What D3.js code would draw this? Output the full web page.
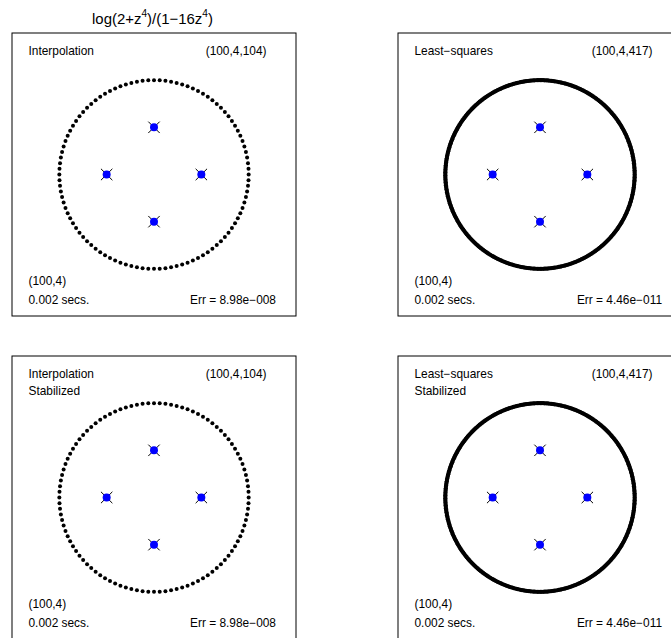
<!DOCTYPE html>
<html>
<head>
<meta charset="utf-8">
<script src="https://cdn.jsdelivr.net/npm/d3@7"></script>
<style>
  body { margin: 0; background: #fff; }
  svg { display: block; font-family: "Liberation Sans", Arial, Helvetica, sans-serif; }
</style>
</head>
<body>
<script>
// panel data, in reading order (top-left, top-right, bottom-left, bottom-right)
var methods    = ["Interpolation", "Least\u2212squares", "Interpolation", "Least\u2212squares"];
var stabilized = [false, false, true, true];
var sizeLabels = ["(100,4,104)", "(100,4,417)", "(100,4,104)", "(100,4,417)"];
var nSamples   = [104, 417, 104, 417];        // sample points on the unit circle
var degLabels  = ["(100,4)", "(100,4)", "(100,4)", "(100,4)"];
var times      = ["0.002", "0.002", "0.002", "0.002"];
var errors     = ["8.98e\u2212008", "4.46e\u2212011", "8.98e\u2212008", "4.46e\u2212011"];

// poles of 1/(1-16z^4): true (blue dots) and computed (black crosses)
var poleRe = [0.5, 0, -0.5, 0];
var poleIm = [0, 0.5, 0, -0.5];
var calcRe = [0.5, 0, -0.5, 0];
var calcIm = [0, 0.5, 0, -0.5];

var W = 671, H = 638;
var pw = 284, ph = 283;
var colX = [12, 398], rowY = [33, 356];

var svg = d3.select("body").append("svg").attr("width", W).attr("height", H);

// title with superscripts, over the left column
var title = svg.append("text").attr("x", 92).attr("y", 23.5).attr("font-size", 14.8);
title.append("tspan").text("log(2+z");
title.append("tspan").attr("dy", -6.5).attr("font-size", 10).text("4");
title.append("tspan").attr("dy", 6.5).text(")/(1\u221216z");
title.append("tspan").attr("dy", -6.5).attr("font-size", 10).text("4");
title.append("tspan").attr("dy", 6.5).text(")");
// fit title to its width in the original (about 121px, centred near x=152.5)
var bb = title.node().getBBox();
var k = 121 / bb.width;
if (k > 0.8 && k < 1.25) {
  title.attr("font-size", 14.8 * k);
  title.selectAll("tspan").filter(function(d, j) { return j % 2 == 1; }).attr("font-size", 10 * k);
  bb = title.node().getBBox();
}
title.attr("x", 92 + (152.5 - (bb.x + bb.width / 2)));

var x = d3.scaleLinear().domain([-1.5, 1.5]).range([0, pw]);
var y = d3.scaleLinear().domain([-1.5, 1.5]).range([ph, 0]);

methods.forEach(function(m, i) {
  var g = svg.append("g")
    .attr("transform", "translate(" + colX[i % 2] + "," + rowY[Math.floor(i / 2)] + ")");

  g.append("rect").attr("width", pw).attr("height", ph)
    .attr("fill", "none").attr("stroke", "#000").attr("stroke-width", 1);

  // sample points
  var pts = d3.range(nSamples[i]).map(function(k) { return 2 * Math.PI * k / nSamples[i]; });
  g.selectAll("circle.samp").data(pts).enter().append("circle")
    .attr("class", "samp")
    .attr("cx", function(t) { return x(Math.cos(t)); })
    .attr("cy", function(t) { return y(Math.sin(t)); })
    .attr("r", nSamples[i] > 200 ? 2.1 : 2.0)
    .attr("fill", "#000");

  // computed poles as crosses
  var s = 5.7;
  g.selectAll("path.cross").data(calcRe).enter().append("path")
    .attr("class", "cross")
    .attr("d", function(d, j) {
      var cx = x(d), cy = y(calcIm[j]);
      return "M" + (cx - s) + "," + (cy - s) + "L" + (cx + s) + "," + (cy + s) +
             "M" + (cx - s) + "," + (cy + s) + "L" + (cx + s) + "," + (cy - s);
    })
    .attr("stroke", "#000").attr("stroke-width", 1).attr("fill", "none");

  // true poles
  g.selectAll("circle.pole").data(poleRe).enter().append("circle")
    .attr("class", "pole")
    .attr("cx", function(d) { return x(d); })
    .attr("cy", function(d, j) { return y(poleIm[j]); })
    .attr("r", 4).attr("fill", "#0000ff");

  var fs = 11.9;
  g.append("text").attr("x", 16.5).attr("y", 21.5).attr("font-size", fs).text(m);
  if (stabilized[i]) g.append("text").attr("x", 16.5).attr("y", 39).attr("font-size", fs).text("Stabilized");
  g.append("text").attr("x", pw - 29.5).attr("y", 21.5).attr("font-size", fs)
    .attr("text-anchor", "end").text(sizeLabels[i]);
  g.append("text").attr("x", 16.5).attr("y", ph - 31).attr("font-size", fs).text(degLabels[i]);
  g.append("text").attr("x", 16.5).attr("y", ph - 12.5).attr("font-size", fs).text(times[i] + " secs.");
  g.append("text").attr("x", pw - 20).attr("y", ph - 12.5).attr("font-size", fs)
    .attr("text-anchor", "end").text("Err = " + errors[i]);
});
</script>
</body>
</html>
